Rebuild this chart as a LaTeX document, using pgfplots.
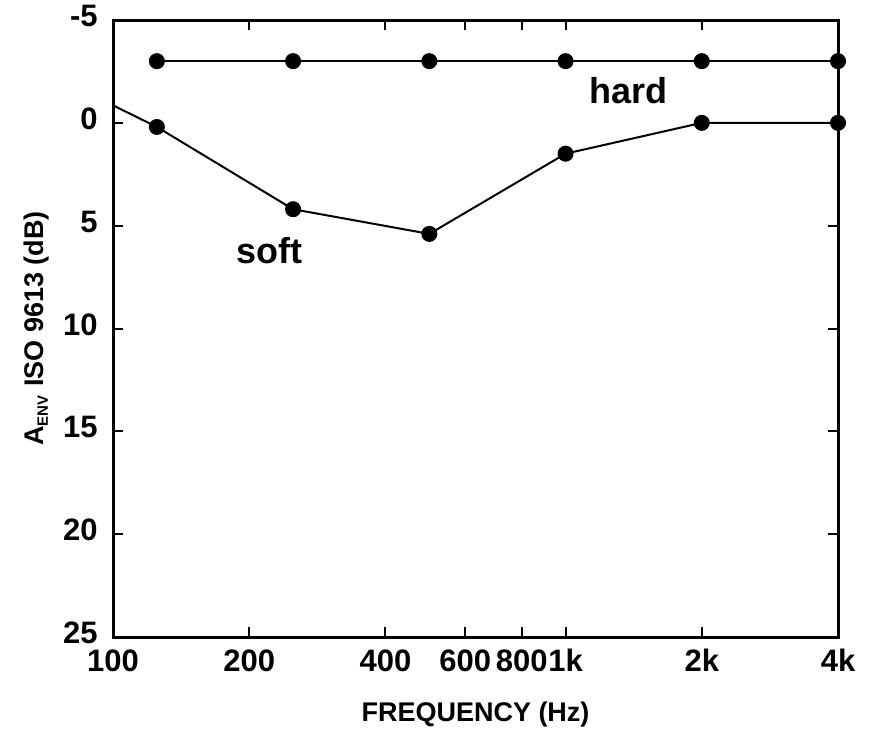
\documentclass[border=0pt]{standalone}
\usepackage{fontspec}
\setmainfont{Liberation Sans}
\usepackage{pgfplots}
\pgfplotsset{compat=1.18}
\begin{document}
\begin{tikzpicture}
\path[use as bounding box] (0pt,0pt) rectangle (439pt,364.5pt);
\begin{axis}[
  at={(56.5pt,46pt)}, anchor=south west,
  scale only axis, width=362.5pt, height=308.5pt,
  xmode=log, xmin=100, xmax=4000,
  ymin=-5, ymax=25, y dir=reverse,
  xtick={100,200,400,600,800,1000,2000,4000},
  xticklabels={100,200,400,600,800,1k,2k,4k},
  ytick={-5,0,5,10,15,20,25},
  yticklabels={-5,0,5,10,15,20,25},
  minor tick num=0, minor xtick={},
  tick align=inside, tick pos=both,
  major tick length=5pt,
  axis line style={line width=1.5pt},
  every tick/.style={black, line width=1pt},
  tick label style={font=\fontsize{15.5}{15.5}\selectfont\bfseries, inner sep=0.5pt},
  /pgf/number format/assume math mode=true,
  xticklabel style={yshift=-5.5pt},
  yticklabel style={xshift=-7pt, yshift=2pt},
  xlabel={FREQUENCY (Hz)},
  ylabel={A\textsubscript{\fontsize{7.5}{7.5}\selectfont ENV} ISO 9613 (dB)},
  label style={font=\fontsize{13.5}{14}\selectfont\bfseries},
  xlabel style={yshift=-11pt},
  ylabel style={yshift=3pt},
  clip=true,
]
% reflecting ground
\addplot[black, line width=1pt, mark=*, mark size=3.5pt]
  coordinates {(125,-3) (250,-3) (500,-3) (1000,-3) (2000,-3) (4000,-3)};
% absorbing ground
\addplot[black, line width=1pt, mark=*, mark size=3.5pt,
  mark indices={2,3,4,5,6,7}]
  coordinates {(100,-0.85) (125,0.2) (250,4.2) (500,5.4) (1000,1.5) (2000,0) (4000,0)};
\node[font=\fontsize{18}{18}\selectfont\bfseries] at (axis cs:222,6.2) {soft};
\node[font=\fontsize{18}{18}\selectfont\bfseries] at (axis cs:1380,-1.55) {hard};
\end{axis}
\end{tikzpicture}
\end{document}
